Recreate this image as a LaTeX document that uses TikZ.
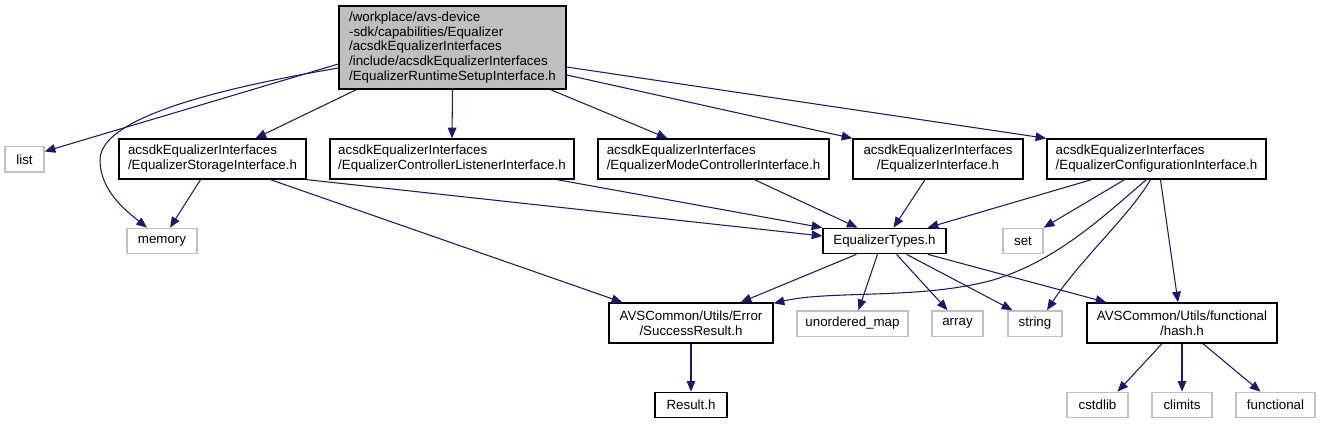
\documentclass[tikz,border=0pt]{standalone}
\usepackage{fontspec}
\setmainfont{Liberation Sans}
\usepackage{tikz}
\usetikzlibrary{arrows.meta,calc}
\usepackage{xcolor}
\definecolor{edgeblue}{HTML}{191970}
\definecolor{sysgray}{HTML}{BFBFBF}
\definecolor{rootgray}{HTML}{BFBFBF}

\begin{document}
\begin{tikzpicture}[
  x=0.75pt, y=-0.75pt,
  every node/.style={inner sep=0pt, align=left, font=\fontsize{10}{11.2}\selectfont},
  box/.style={draw=black, line width=1pt, fill=white},
  sys/.style={draw=sysgray, line width=1pt, fill=white},
  oneline/.style={minimum height=19pt},
  twoline/.style={minimum height=30pt},
  dep/.style={-{Triangle[length=8pt, width=6.5pt]}, draw=edgeblue, line width=0.8pt},
]
  \useasboundingbox (0,0) rectangle (1320,424);

  % Root header
  \node[box, fill=rootgray, minimum width=170.25pt, minimum height=62.25pt] (root) at (452.5,47.5)
    {/workplace/avs-device\\-sdk/capabilities/Equalizer\\/acsdkEqualizerInterfaces\\/include/acsdkEqualizerInterfaces\\/EqualizerRuntimeSetupInterface.h};

  % Row 1
  \node[sys, oneline, minimum width=29.25pt] (lst) at (24.5,159.5) {list};
  \node[box, twoline, minimum width=140.25pt] (stor) at (212.5,159) {acsdkEqualizerInterfaces\\/EqualizerStorageInterface.h};
  \node[box, twoline, minimum width=183pt] (ctrl) at (452,159) {acsdkEqualizerInterfaces\\/EqualizerControllerListenerInterface.h};
  \node[box, twoline, minimum width=173.25pt] (mode) at (713.5,159) {acsdkEqualizerInterfaces\\/EqualizerModeControllerInterface.h};
  \node[box, twoline, minimum width=127.5pt, align=center] (eqi) at (938,159) {acsdkEqualizerInterfaces\\/EqualizerInterface.h};
  \node[box, twoline, minimum width=164.25pt] (conf) at (1156.5,159) {acsdkEqualizerInterfaces\\/EqualizerConfigurationInterface.h};

  % Row 2
  \node[sys, oneline, minimum width=52.5pt] (mem) at (162,241) {memory};
  \node[box, oneline, minimum width=92.25pt] (types) at (884.5,241) {EqualizerTypes.h};
  \node[sys, oneline, minimum width=30pt] (set) at (1023,241) {set};

  % Row 3
  \node[box, twoline, minimum width=123pt, align=center] (succ) at (691,323) {AVSCommon/Utils/Error\\/SuccessResult.h};
  \node[sys, oneline, minimum width=83.25pt] (umap) at (852.5,323.5) {unordered\_map};
  \node[sys, oneline, minimum width=38.25pt] (arr) at (957.5,323.5) {array};
  \node[sys, oneline, minimum width=40.5pt] (str) at (1035,323.5) {string};
  \node[box, twoline, minimum width=142.5pt, align=center] (hash) at (1182,323) {AVSCommon/Utils/functional\\/hash.h};

  % Row 4
  \node[box, oneline, minimum width=54pt] (res) at (691,405) {Result.h};
  \node[sys, oneline, minimum width=45.75pt] (cstd) at (1097.5,405) {cstdlib};
  \node[sys, oneline, minimum width=45pt] (clim) at (1182,405) {climits};
  \node[sys, oneline, minimum width=59.25pt] (func) at (1275.5,405) {functional};

  % Edges from root
  \draw[dep] ($(root.west)+(0,16.5)$) -- ($(lst.east)+(0,-8)$);
  \draw[dep] ($(root.west)+(0,20.5)$) .. controls (180,95) and (100,125) .. (100,160)
    .. controls (100,190) and (125,210) .. ($(mem.north)+(-15,0)$);
  \draw[dep] ($(root.south west)+(18,0)$) -- ($(stor.north)+(43,0)$);
  \draw[dep] (root.south) -- (ctrl.north);
  \draw[dep] ($(root.south east)+(-16,0)$) -- ($(mode.north)+(-46,0)$);
  \draw[dep] ($(root.east)+(0,27.5)$) -- (eqi.north west);
  \draw[dep] ($(root.east)+(0,19.5)$) -- (conf.north west);

  % Edges from row 1
  \draw[dep] ($(stor.south)+(-12,0)$) -- ($(mem.north)+(8,0)$);
  \draw[dep] (stor.south east) -- ($(types.west)+(0,-5)$);
  \draw[dep] ($(stor.south)+(58,0)$) -- ($(succ.north west)+(14,0)$);
  \draw[dep] ($(ctrl.south)+(105,0)$) -- (types.north west);
  \draw[dep] ($(mode.south)+(41,0)$) -- ($(types.north)+(-27,0)$);
  \draw[dep] ($(eqi.south)+(-13,0)$) -- ($(types.north)+(9,0)$);
  \draw[dep] ($(conf.south)+(-65,0)$) -- ($(types.north east)+(-19,0)$);
  \draw[dep] ($(conf.south)+(-32,0)$) -- (set.north east);
  \draw[dep] ($(conf.south)+(-10,0)$) .. controls (1110,210) and (1060,260) .. (993,280)
    .. controls (920,300) and (830,290) .. ($(succ.north east)+(0,1)$);
  \draw[dep] ($(conf.south)+(-6,0)$) .. controls (1130,215) and (1080,260) .. ($(str.north)+(12,0)$);
  \draw[dep] ($(conf.south)+(4,0)$) -- ($(hash.north)+(-4,0)$);

  % Edges from row 2
  \draw[dep] ($(types.south)+(-28,0)$) -- ($(succ.north east)+(-33,0)$);
  \draw[dep] ($(types.south)+(-7,0)$) -- ($(umap.north)+(6,0)$);
  \draw[dep] ($(types.south)+(12,0)$) -- ($(arr.north)+(-10,0)$);
  \draw[dep] ($(types.south)+(22,0)$) -- ($(str.north west)+(5,0)$);
  \draw[dep] ($(types.south east)+(-19,0)$) -- ($(hash.north west)+(20,0)$);

  % Edges from row 3
  \draw[dep] (succ) -- (res);
  \draw[dep] ($(hash.south)+(-20,0)$) -- ($(cstd.north)+(20,0)$);
  \draw[dep] (hash) -- (clim);
  \draw[dep] ($(hash.south)+(21,0)$) -- ($(func.north)+(-15,0)$);
\end{tikzpicture}
\end{document}
